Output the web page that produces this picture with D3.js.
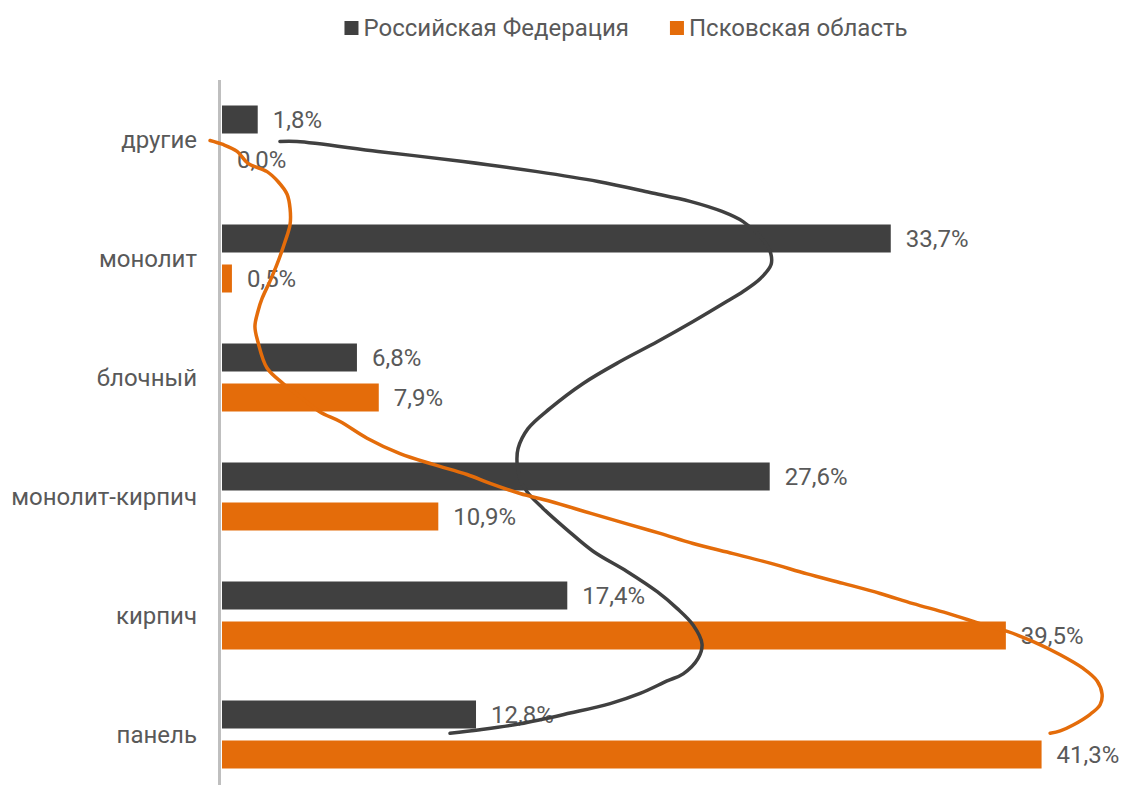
<!DOCTYPE html>
<html><head><meta charset="utf-8">
<script src="https://cdn.jsdelivr.net/npm/d3@7"></script>
<style>body{margin:0;background:#fff;font-family:Roboto,"Open Sans",sans-serif;}</style>
</head><body><svg id="c" width="1121" height="785"></svg>
<script>
const categories = ["другие","монолит","блочный","монолит-кирпич","кирпич","панель"];
const seriesNames = ["Российская Федерация","Псковская область"];
const valuesRF = [1.8, 33.7, 6.8, 27.6, 17.4, 12.8];
const valuesPskov = [0.0, 0.5, 7.9, 10.9, 39.5, 41.3];
const colors = ["#404040", "#E46C0A"];
// smoothed lines overlaid on the chart: [value %, position in category units]
const curveRF = [[2.97,0.017],[3.83,0.017],[7.91,0.10],[12.2,0.185],[15.93,0.27],[19.0,0.353],[21.62,0.445],[23.64,0.52],[25.25,0.605],[26.31,0.69],[27.17,0.815],[27.67,0.94],[27.72,1.05],[27.17,1.17],[26.31,1.277],[25.5,1.36],[23.79,1.53],[21.98,1.70],[20.11,1.866],[18.25,2.05],[16.58,2.26],[15.47,2.43],[14.97,2.597],[14.92,2.72],[15.07,2.85],[15.42,2.96],[16.23,3.10],[17.44,3.28],[18.75,3.46],[20.46,3.63],[21.98,3.80],[22.98,3.94],[23.79,4.08],[24.24,4.24],[24.04,4.36],[23.29,4.49],[22.48,4.55],[21.12,4.655],[19.61,4.74],[17.59,4.82],[15.07,4.91],[13.05,4.96],[11.54,4.99]];
const curvePskov = [[-0.55,0.008],[0.10,0.042],[0.81,0.10],[1.36,0.20],[2.32,0.27],[2.87,0.353],[3.33,0.46],[3.48,0.58],[3.48,0.714],[3.23,0.857],[2.82,1.05],[2.47,1.19],[2.07,1.336],[1.86,1.445],[1.71,1.57],[1.86,1.70],[2.32,1.92],[3.13,2.05],[3.98,2.16],[4.99,2.29],[6.0,2.37],[7.36,2.51],[9.02,2.64],[10.69,2.73],[12.4,2.815],[13.56,2.89],[15.07,2.975],[16.58,3.04],[18.6,3.14],[20.46,3.23],[22.13,3.31],[23.79,3.395],[25.81,3.48],[27.67,3.56],[29.54,3.65],[31.35,3.73],[33.22,3.815],[34.88,3.90],[36.59,3.98],[38.1,4.06],[38.86,4.10],[39.62,4.134],[40.93,4.22],[42.29,4.33],[43.45,4.445],[44.15,4.55],[44.4,4.66],[44.3,4.75],[43.8,4.83],[42.94,4.92],[42.29,4.97],[41.78,4.99]];

const svg = d3.select("#c");
const fmt = v => d3.format(".1f")(v).replace(".", ",") + "%";
const x = d3.scaleLinear().domain([0, 45]).range([221, 1114]);
const y = d3.scaleBand().domain(categories).range([80, 794]);
const inner = d3.scaleBand().domain([0,1]).range([-34, 34]).paddingInner(0.3);
const c0 = y(categories[0]) + y.bandwidth()/2;
const yPos = d3.scaleLinear().domain([0, 5]).range([c0, y(categories[5]) + y.bandwidth()/2]);
const textColor = "#595959";
const fs = 24;

// legend
const lg = svg.append("g");
let lx = 0;
seriesNames.forEach((n, i) => {
  const g = lg.append("g").attr("transform", `translate(${lx},0)`);
  g.append("rect").attr("x", 0).attr("y", 21).attr("width", 14).attr("height", 14).attr("fill", colors[i]);
  const t = g.append("text").attr("x", 19).attr("y", 36).attr("font-size", fs).attr("fill", textColor).text(n);
  lx += 19 + t.node().getComputedTextLength() + 41;
});
const lw = lx - 41;
lg.attr("transform", `translate(${626 - lw/2},0)`);

// axis line
svg.append("line").attr("x1", 219.5).attr("x2", 219.5).attr("y1", 80).attr("y2", 794)
  .attr("stroke", "#BFBFBF").attr("stroke-width", 3);

// category labels
svg.append("g").selectAll("text").data(categories).join("text")
  .attr("x", 197).attr("y", d => y(d) + y.bandwidth()/2).attr("dy", "0.35em")
  .attr("text-anchor", "end").attr("font-size", fs).attr("fill", textColor).text(d => d);

const series = [valuesRF, valuesPskov];
series.forEach((vals, si) => {
  const data = categories.map((c, i) => ({c, v: vals[i]}));
  svg.append("g").selectAll("rect").data(data).join("rect")
    .attr("x", x(0) + 1).attr("y", d => y(d.c) + y.bandwidth()/2 + inner(si))
    .attr("width", d => Math.max(0, x(d.v) - x(0)))
    .attr("height", inner.bandwidth()).attr("fill", colors[si]);
  svg.append("g").selectAll("text").data(data).join("text")
    .attr("x", d => x(d.v) + 16)
    .attr("y", d => y(d.c) + y.bandwidth()/2 + inner(si) + inner.bandwidth()/2).attr("dy", "0.35em")
    .attr("font-size", fs).attr("fill", textColor).text(d => fmt(d.v));
});

const line = d3.line().x(d => x(d[0])).y(d => yPos(d[1])).curve(d3.curveCatmullRom);
[curveRF, curvePskov].forEach((pts, i) => {
  svg.append("path").attr("d", line(pts)).attr("fill", "none")
    .attr("stroke", colors[i]).attr("stroke-width", 3.5).attr("stroke-linecap", "round");
});
</script></body></html>
